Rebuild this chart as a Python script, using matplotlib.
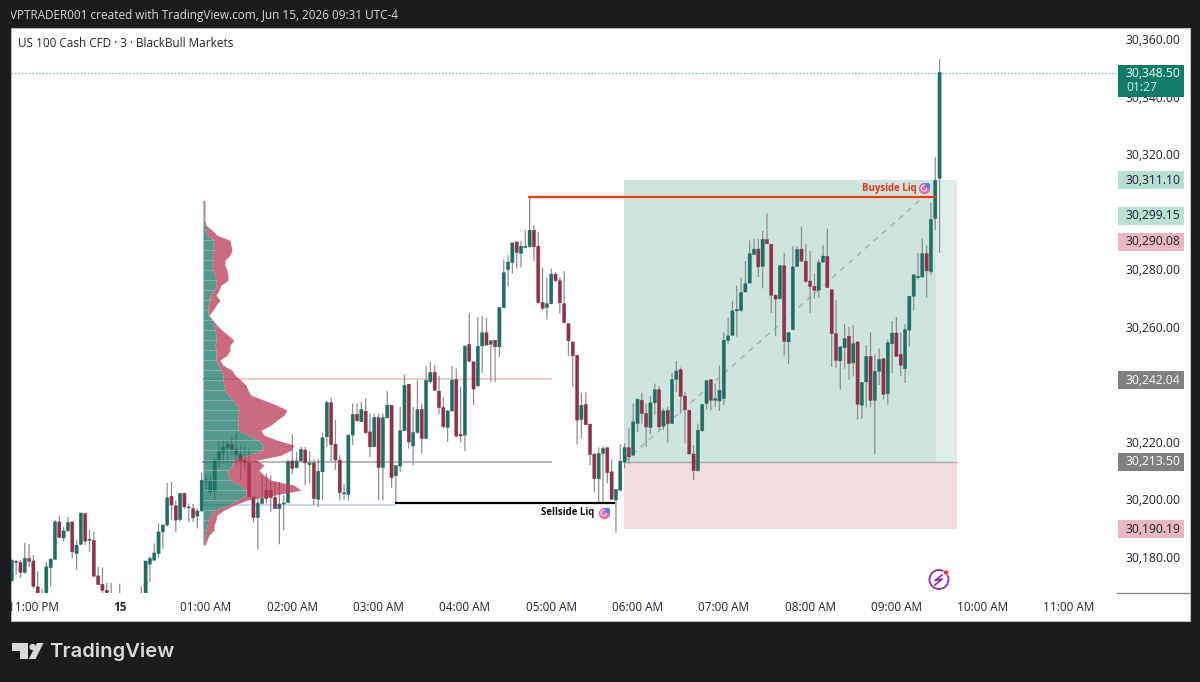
import numpy as np
import matplotlib
matplotlib.use("Agg")
import matplotlib.pyplot as plt
from matplotlib.patches import Rectangle, Polygon, Circle
from matplotlib.transforms import blended_transform_factory
from matplotlib.lines import Line2D

FONT = "Open Sans"
plt.rcParams["font.family"] = [FONT, "DejaVu Sans"]

BASE = 30000.0
HIGHS = [179,178.8,178.8,184.8,184.3,180.5,175,168.9,178.2,179.4,
192.7,194.1,190.4,193.8,192.1,185.7,195.2,195,189.2,188.6,
176.5,176.2,170.9,170.9,166,170.6,166,166,166,166,
169.7,178.5,180,184.6,191.5,191.2,205.7,206,199.4,202.2,
202.2,198.5,198.3,196.7,209.2,208.3,208.3,214.5,220.7,220.7,
220.5,221.7,223,218.4,218.2,217.6,200.8,200.8,208.3,208.9,
208.3,206,206,201.4,213.8,222.5,216.5,218.2,218.2,216.5,
213.8,213.8,223.1,234.2,235.4,227.5,215.3,205.4,222.5,233.3,
233.3,233.9,235.2,229.8,229.8,229.8,229.8,237.6,232.7,211.8,
232.1,243.4,240,232.1,241.4,233.3,246.4,247.8,246.6,242.9,
235.6,231,246.4,245.5,239.1,253.6,264.9,247.8,263.4,263.8,
263.1,255.3,255.3,266.9,283.4,284.9,289.2,289.5,289.9,293.6,
305.2,295.3,293,280.6,277.1,280.2,279,277.3,279.4,261.1,
254.7,250.1,237.1,237.1,226.3,215.9,218,218.4,218,213.8,
203.4,219.1,219.4,224.6,233.3,235,237,233.3,235.8,240.2,
239.3,231.5,232.3,243.9,248.1,245.8,237.3,231.2,218.8,226.3,
233.3,241.4,241.6,240.2,246.4,258,263.1,269,274.4,277.1,
282.9,290,290.6,290.6,293.3,299.4,288.7,271.3,281.4,285.7,
258,288,288,294.9,288.9,286.3,278.5,283.4,288.3,294.1,
272.9,269.2,253,260.9,259.9,260.5,254.9,240.6,253.6,258,
250.4,252.4,248.9,255.5,262,263.4,258,260.9,270.6,278.1,
285.7,290.6,288.3,303,319,353]
BODY_TOPS = [178.8,178.4,178,179.4,179.4,178.5,169.5,165,176.5,179.1,
192.1,192.1,189,191.9,192.1,184,195.2,195,186.1,185.7,
173.3,170.4,168.3,165.5,164,165,164,164,164,164,
166,178.5,179.4,181.3,188.6,191,200.5,201,197.7,202,
202,197.3,196.7,195.9,206.6,206.8,206.6,213.6,216.5,218,
219.1,219.1,217.3,215.6,213.6,212.6,200.8,198.7,200.2,203.1,
203.1,200.6,198.3,198.7,213,213.3,213.3,217.3,217.1,212.6,
212.6,209.7,221.4,233.6,233.6,219.1,213.6,202.2,222.3,229.5,
229.5,231.2,230.6,223.4,228.4,228.4,228.4,232.7,232.7,211.7,
223.8,239.6,240,223.2,231.2,231.3,241.4,244.1,244.1,237.6,
231.9,230.7,241.4,241.6,222.5,253.2,253.9,247.8,253.2,257.9,
257.9,255.1,255.3,266.7,278.8,282.5,289.2,289.5,288,288,
293.6,293.6,288,268.4,268,278.3,278.3,276,268,261.1,
254.7,250.1,232.7,233,226.1,215.7,215.9,217.6,217.9,209.5,
203.4,213.2,217.9,217.9,226.9,234.7,234.4,229.8,233.5,238.1,
238.1,230.7,230.9,241.6,244.6,245.1,235.9,230.9,215.7,224,
232.9,241.2,241.6,235,237.9,255.3,256.8,265.5,266,271.9,
275,285.4,287,287,290.4,290.3,288.7,270.9,281.2,281.2,
258,280.8,286.9,287,282.8,275.9,274,282.3,284.6,284.5,
272.9,257.6,253,255.9,256.7,254.1,254.7,240.6,249.7,249.7,
244.5,248.6,248.9,254.4,257.8,257.8,250.4,259,270.6,278.1,
277.6,285.4,285.4,297.3,311,348.5]
BODY_BOTTOMS = [171.6,178,174.5,174.5,178.4,169.7,167.4,162,165,176.2,
179.1,186.7,186.5,189,181.7,181.1,184.3,185.4,185.7,173.2,
170.3,168.3,167.4,163,162,163,162,162,162,162,
163,165,177.4,178.8,181.1,188.6,191,197.9,192.7,192.9,
197.3,197,193.5,194.1,195.9,206.2,202.5,202.9,213.3,216.2,
218,217.3,215.6,213.3,212.6,200.8,193.6,193.6,198.5,200.2,
200.5,196.7,196.7,198.3,198.8,210.7,211,213.3,212.6,212,
200.2,200,209.5,221.7,219,213.6,202.3,201.8,201.6,222.3,
227.3,226.9,223.1,218.2,218.2,211,211,228.3,207.5,208.1,
211.5,223.8,219.9,218.5,223.2,221.1,221.1,240.8,237.9,231.9,
225.2,225,230.7,221.9,222,222.3,248,238.3,239.4,253.3,
253.6,253.9,253,253,266.6,279.9,282.3,285.8,285.5,287.5,
287.8,287.8,268.4,266.4,266.7,268,276,268.3,261.5,255.1,
249.9,227.5,227.7,225.9,215.5,207.1,207.1,215.9,209.2,200,
199.7,203.1,212.9,214.7,215.3,226.3,229.8,225.1,224.9,233.5,
225.1,225.4,226.3,226.3,241.6,235.8,231.2,215.7,209.9,209.9,
223.8,233.3,234.4,234.4,234.2,235,255.3,257,265.5,265.7,
272.1,275.2,285.1,280.8,281,288.9,270.9,269.6,269.8,254.9,
254.7,259,281,282.8,275.8,274,272.7,272.7,282.5,273.6,
257.6,248.3,248.1,252.7,247.2,247.4,233,232.7,240.8,234.4,
234.4,244.5,236.5,236.7,254.1,249.7,246.6,245.4,258.8,270.6,
277.1,277.3,279.4,279.1,297.7,311.6]
LOWS = [171,173.7,172.7,174.1,176.5,168.9,166,160,164,169.5,
178.8,186.3,185.2,188.6,179.4,175.5,184,184,181.7,173,
170.1,167.4,165,160,160,161,160,160,160,160,
161,164,171.2,178.5,179.4,182.8,190.4,192.7,188.6,192.1,
196.7,192.1,192.1,189.8,195.6,202.5,201,199.6,211.2,212.4,
213.6,215.3,211.8,206.6,210.1,200.6,191.8,182.5,198.5,198.5,
195.6,196.7,184.3,189,198.5,208.9,210.7,213,204.9,205.5,
197.9,197.3,199.7,218.2,213.3,210.1,199.4,199.7,199.4,218.8,
226.9,226.9,222.8,214.7,218.2,199.7,199.7,228.1,204,198.5,
209.5,223.7,217.6,211.8,222.8,215.9,220.8,240.2,237.9,229.6,
224.6,219.9,230.4,221.7,219.9,216.7,247.8,232.7,239.1,244,
253.6,240.8,240.8,249.5,266.6,273.9,278.5,280.2,280.6,287.5,
287.5,282.9,268,265.7,262.5,267.8,275.6,264.6,261.1,249.9,
239.1,219,221.1,225.7,211.8,202.6,198.5,198.5,205.5,199.7,
188.3,202.9,210.7,212.4,214.9,223.4,226.3,218.2,222.6,229.2,
224,224,219.7,226.1,237.3,229.8,219.4,215.7,206.6,209.5,
223.4,231.2,230.9,232,230.7,232.7,254.1,256.8,256.5,265.1,
271.8,275,284.9,277.3,273.3,288.7,264.8,256.8,269.4,250,
247,258.8,280.8,282.5,275.2,264.8,269.8,270.1,282.3,273.6,
246,245.7,238.1,245.4,241.6,242.8,227.7,228,231.9,231.9,
215.7,239.7,234.7,232.9,243.9,249.5,242.8,240.4,253,265.7,
276.4,277.1,270.1,277.9,293.6,285.7]
DIRECTIONS = ("GRRGRRRRGG" "GRGGRGGRGR" "RRRRRGRRRR" "GGGGGGGRRG" "RGRGGGGGGG"
              "GRRRRRRGGR" "RRGGGRGGRG" "RGGGRRRGGG" "RGRRGRGGRG" "GGRGGRGGRR"
              "RGGRRGRRGG" "RGRGGGGRGG" "GRRRGGRRRR" "RRGRRRGGRR" "GGGRGGRRGG"
              "RGRGGRRRRG" "GGRGGGGGGG" "GGGRGRRRGR" "GGGRRRRGGR" "RRGGRGRGGR"
              "GGRGGRRGGG" "GGRGGG")

PROFILE_TOTAL = [2,2,2,2,2,3,9,14,27,28,29,27,22,22,24,25,25,18,16,13,17,13,10,6,10,14,19,25,31,27,
                 27,24,17,20,29,32,38,43,45,48,61,74,84,81,74,68,58,61,74,91,88,78,54,61,56,61,68,91,98,71,
                 44,31,21,14,13,11,11,6,4,2]
PROFILE_UP = [1,1,1,1,1,2,3,4,11,10,11,9,10,9,10,12,13,13,11,7,7,5,5,5,9,11,12,13,13,12,
              13,13,13,15,18,20,20,21,22,25,30,34,36,35,35,35,35,45,55,60,60,45,30,30,25,25,27,37,43,43,
              35,25,12,7,5,4,3,2,1,1]
PROFILE_TOP, PROFILE_BOTTOM = 30304.0, 30184.0

HOUR_TICKS = [-1, 0, 1, 2, 3, 4, 5, 6, 7, 8, 9, 10, 11]
HOUR_LABELS = ["11:00 PM", "15", "01:00 AM", "02:00 AM", "03:00 AM", "04:00 AM", "05:00 AM",
               "06:00 AM", "07:00 AM", "08:00 AM", "09:00 AM", "10:00 AM", "11:00 AM"]
PRICE_TICKS = [30360, 30340, 30320, 30280, 30260, 30220, 30200, 30180]

LAST_PRICE = 30348.3
ZONE_TOP, ZONE_MID, ZONE_BOTTOM = 30311.10, 30213.0, 30189.6
BUYSIDE, SELLSIDE = 30305.0, 30198.6
VAH, POC, VAL = 30241.7, 30213.0, 30197.8

DARK = "#1c1c1c"
GREEN, RED, WICK = "#1f6e5f", "#8f3149", "#8e8e8e"
INK = "#20232c"

fig = plt.figure(figsize=(12, 6.82), dpi=100, facecolor=DARK)

# page furniture, laid out in pixels
bg = fig.add_axes([0, 0, 1, 1], zorder=0)
bg.set_xlim(0, 1200); bg.set_ylim(682, 0); bg.axis("off")
bg.add_patch(Rectangle((11, 28), 1178.5, 592.5, fc="white", ec="#b8b8b8", lw=0.8))
bg.text(10, 15.5, "VPTRADER001 created with TradingView.com, Jun 15, 2026 09:31 UTC-4",
        color="#d8d8d8", fontsize=8.5, va="center", ha="left")
bg.text(18, 43.5, "US 100 Cash CFD · 3 · BlackBull Markets", color=INK, fontsize=8.45, va="center")
bg.plot([1117, 1189], [593, 593], color="#8a8a8a", lw=1)
LOGO = "#d9d9d9"
bg.add_patch(Polygon([(12, 643), (28, 643), (28, 659), (20, 659), (20, 651), (12, 651)], fc=LOGO, ec="none"))
bg.add_patch(Circle((32.6, 647), 3.2, fc=LOGO, ec="none"))
bg.add_patch(Polygon([(37, 643), (43.5, 643), (35.5, 659), (28.8, 659)], fc=LOGO, ec="none"))
bg.text(49.5, 652, "TradingView", color=LOGO, fontsize=14.6, fontweight="semibold", va="center",
        family="Inter")

# chart
ax = fig.add_axes([11 / 1200, (682 - 593) / 682, 1106 / 1200, 565 / 682], zorder=1)
ax.patch.set_alpha(0)
for s in ax.spines.values():
    s.set_visible(False)
ax.set_xlim(-1.2596, 11.556)
ax.set_ylim(30167.35, 30363.93)
ax.yaxis.tick_right()
ax.set_yticks(PRICE_TICKS)
ax.set_yticklabels([f"{p:,.2f}" for p in PRICE_TICKS], color=INK, fontsize=8.7)
ax.set_xticks(HOUR_TICKS)
ax.set_xticklabels(HOUR_LABELS, color=INK, fontsize=8.5)
ax.tick_params(axis="y", length=0, pad=6.2)
ax.tick_params(axis="x", length=0, pad=5.5)
ax.get_xticklabels()[1].set_fontweight("bold")

highs = BASE + np.array(HIGHS)
tops = BASE + np.array(BODY_TOPS)
bottoms = BASE + np.array(BODY_BOTTOMS)
lows = BASE + np.array(LOWS)
up = np.array([d == "G" for d in DIRECTIONS])
hours = 9.5 - 0.05 * np.arange(len(HIGHS))[::-1]

# position zone
X0, X_NOW, X1 = 5.843, 9.459, 9.70
ax.add_patch(Rectangle((X0, ZONE_MID), X_NOW - X0, ZONE_TOP - ZONE_MID, fc="#cde5dd", ec="none", zorder=1))
ax.add_patch(Rectangle((X_NOW, ZONE_MID), X1 - X_NOW, ZONE_TOP - ZONE_MID, fc="#ddeee9", ec="none", zorder=1))
ax.add_patch(Rectangle((X0, ZONE_BOTTOM), X1 - X0, ZONE_MID - ZONE_BOTTOM, fc="#f3dce0", ec="none", zorder=1))
ax.plot([X0, X1], [ZONE_MID, ZONE_MID], color="#a9a9a9", lw=1, zorder=1.2)
ax.plot([X0, X_NOW - 0.15], [ZONE_MID, 30305], color="#9fb3ad", lw=1, ls=(0, (4, 4)), zorder=1.3)

# session levels
P0 = 0.965
ax.plot([P0, 5.0], [VAH, VAH], color="#f6c9c9", lw=1.4, zorder=1.4)
ax.plot([P0, 5.0], [POC, POC], color="#b5b5b5", lw=1.4, zorder=1.4)
ax.plot([P0, 3.19], [VAL, VAL], color="#bcd0f5", lw=1.2, zorder=1.4)

# candles
wicks = ax.vlines(hours, lows, highs, color=WICK, lw=0.9, zorder=2)
wicks.set_snap(False)
colors = np.where(up, GREEN, RED)
bars = ax.bar(hours, tops - bottoms, bottom=bottoms, width=0.037, color=colors, edgecolor=colors, lw=0.3, zorder=3)
for b in bars:
    b.set_snap(False)

# volume profile
levels = np.linspace(PROFILE_TOP, PROFILE_BOTTOM, len(PROFILE_TOTAL))
vol_up = np.array(PROFILE_UP) / 86.3
vol_all = np.array(PROFILE_TOTAL) / 86.3
ax.fill_betweenx(levels, P0, P0 + vol_up, color="#1a7766", alpha=0.75, lw=0, zorder=4)
ax.fill_betweenx(levels, P0 + vol_up, P0 + vol_all, color="#b73856", alpha=0.75, lw=0, zorder=4)
ax.hlines(levels[::2], P0, P0 + vol_up[::2], color="#ffffff", lw=0.6, alpha=0.3, zorder=4.1)

# liquidity lines
ax.plot([4.73, X_NOW], [BUYSIDE, BUYSIDE], color="#f23a10", lw=1.6, zorder=5, solid_capstyle="butt")
ax.plot([3.19, 5.74], [SELLSIDE, SELLSIDE], color="#000000", lw=1.6, zorder=5, solid_capstyle="butt")
ax.text(9.235, 30308.2, "Buyside Liq", color="#e8321a", fontsize=6.9, fontweight="bold", ha="right", va="center", zorder=6)
ax.text(5.50, 30195.2, "Sellside Liq", color="#111111", fontsize=6.9, fontweight="bold", ha="right", va="center", zorder=6)
for hx, py in [(9.32, 30308.2), (5.61, 30195.2)]:
    ax.scatter([hx], [py], s=58, facecolor="#ee6aa7", edgecolor="#c34f90", lw=0.4, zorder=6)
    ax.scatter([hx], [py], s=18, facecolor="none", edgecolor="#ffffff", lw=0.6, zorder=7)
    ax.scatter([hx + 0.04], [py + 1.2], s=8, color="#4a86d8", zorder=7)

# last price line
ax.plot([-1.2596, 11.556], [LAST_PRICE, LAST_PRICE], color="#7fb5aa", lw=1, ls=(0, (1, 1.5)), zorder=1.5)

# price tags
bt = blended_transform_factory(ax.transAxes, ax.transData)
fx = lambda px: (px - 11) / 1106
def tag(price, text, bg_c, fg, h=6.3):
    ax.add_patch(Rectangle((fx(1117.5), price - h / 2), 66.5 / 1106, h, transform=bt, fc=bg_c, ec="none",
                           zorder=10, clip_on=False))
    ax.text(fx(1126), price, text, transform=bt, color=fg, fontsize=8.7, va="center", ha="left", zorder=11, clip_on=False)

tag(30311.0, "30,311.10", "#b7dfd2", INK)
tag(30298.6, "30,299.15", "#b7dfd2", INK)
tag(30289.6, "30,290.08", "#e8b7c2", INK)
tag(30241.4, "30,242.04", "#808080", "#ffffff")
tag(30213.0, "30,213.50", "#808080", "#ffffff")
tag(30189.6, "30,190.19", "#e8b7c2", INK)
ax.add_patch(Rectangle((fx(1117.5), 30340.0), 66.5 / 1106, 11.2, transform=bt, fc="#0f7c67", ec="none", zorder=10, clip_on=False))
ax.text(fx(1126), 30348.2, "30,348.50", transform=bt, color="#ffffff", fontsize=8.7, va="center", zorder=11, clip_on=False)
ax.text(fx(1126), 30343.4, "01:27", transform=bt, color="#d5ece6", fontsize=8.7, va="center", zorder=11, clip_on=False)

# alert icon
bg2 = fig.add_axes([0, 0, 1, 1], zorder=2)
bg2.set_xlim(0, 1200); bg2.set_ylim(682, 0); bg2.axis("off"); bg2.patch.set_alpha(0)
bg2.add_patch(Circle((939, 579.5), 9.5, fc="none", ec="#8e2cae", lw=1.3))
bg2.add_line(Line2D([942, 935, 942, 935], [575, 580.5, 579, 585], color="#8e2cae", lw=1.2))
bg2.add_patch(Circle((946, 572.5), 2.6, fc="#ef2f3c", ec="white", lw=0.5))
# chart panel left edge: dark strip over clipped time label
fig.add_artist(Rectangle((0, 0), 10.5 / 1200, 1, transform=fig.transFigure, fc=DARK, ec="none", zorder=20))

fig.savefig("out.png", dpi=100, facecolor=DARK)
